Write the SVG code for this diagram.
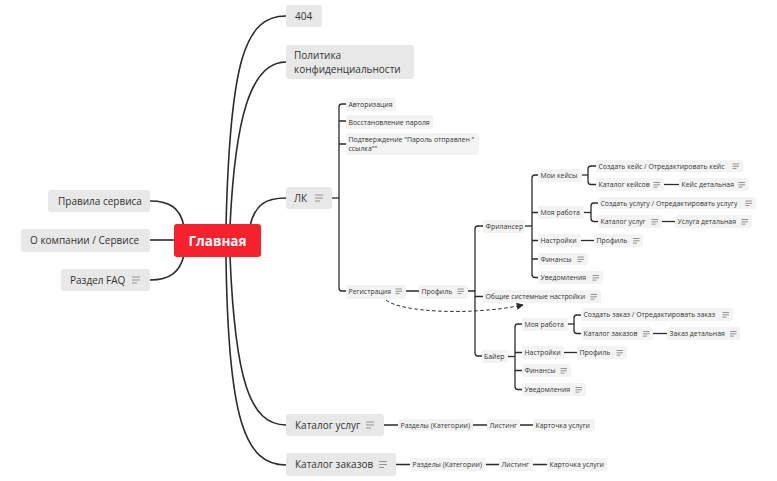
<svg xmlns="http://www.w3.org/2000/svg" width="777" height="481" viewBox="0 0 777 481">
<defs>
<style>
text{font-family:"Open Sans","Noto Sans","Liberation Sans",sans-serif;fill:#333}
.b1{fill:#e8e8e8}
.b2{fill:#f3f3f3}
.t1{font-size:10px}
.t2{font-size:6.9px}
.c{fill:none;stroke:#2b2b2b;stroke-width:1.6}
.l{fill:none;stroke:#2b2b2b;stroke-width:1.3}
.ic{fill:none;stroke:#888;stroke-width:0.9}
</style>
<g id="note1" class="ic"><path d="M0 0.5h8M0 3.5h8M0 6.5h5"/></g>
<g id="note2" class="ic"><path d="M0 0.5h6.5M0 2.8h6.5M0 5.1h4"/></g>
<marker id="arr" viewBox="0 0 10 10" refX="9" refY="5" markerWidth="7" markerHeight="7" orient="auto" markerUnits="userSpaceOnUse"><path d="M0 0L10 5L0 10z" fill="#2b2b2b"/></marker>
</defs>
<rect width="777" height="481" fill="#fff"/>

<g id="connectors">
<path class="c" d="M226 226C230 60 245 16 286 16"/>
<path class="c" d="M230 226C235 120 250 62 286 62"/>
<path class="c" d="M250 226C255 205 265 198 286 198"/>
<path class="c" d="M184 226C180 208 170 201 150 201"/>
<path class="c" d="M174 240H150"/>
<path class="c" d="M184 255C180 272 170 280 150 280"/>
<path class="c" d="M230 256C235 380 250 425 286 425"/>
<path class="c" d="M226 256C228 420 245 465 286 465"/>
<path class="l" d="M332 198H339"/>
<path class="l" d="M346 104H342Q339 104 339 107V288Q339 291 342 291H346"/>
<path class="l" d="M339 121H346M339 144H346"/>
<path class="l" d="M406 291H419M468 291H475"/>
<path class="l" d="M483 226H478Q475 226 475 229V353Q475 356 478 356H482M475 296.5H483"/>
<path class="l" d="M525 226H532"/>
<path class="l" d="M538 175H535Q532 175 532 178V274.5Q532 277.5 535 277.5H538M532 212.5H538M532 240.5H538M532 259H538"/>
<path class="l" d="M582 175H588"/>
<path class="l" d="M596 166H591Q588 166 588 169V181.5Q588 184.5 591 184.5H596"/>
<path class="l" d="M664 184.5H679"/>
<path class="l" d="M584 212.5H591"/>
<path class="l" d="M598 203H594Q591 203 591 206V218.5Q591 221.5 594 221.5H598"/>
<path class="l" d="M662 221.5H675"/>
<path class="l" d="M581 240.5H594"/>
<path class="l" d="M508 356.5H515"/>
<path class="l" d="M522 324H518Q515 324 515 327V386.5Q515 389.5 518 389.5H522M515 352.5H522M515 370.5H522"/>
<path class="l" d="M568 324H574"/>
<path class="l" d="M581 315H577Q574 315 574 318V330.5Q574 333.5 577 333.5H581"/>
<path class="l" d="M653 333.5H667"/>
<path class="l" d="M564 352.5H577"/>
<path class="l" d="M384 425H398M473 425H487M520 425H533"/>
<path class="l" d="M396 464.5H410M486 464.5H499M533 464.5H547"/>
<path fill="none" stroke="#2b2b2b" stroke-width="1" stroke-dasharray="3.5 2.5" d="M386 300C400 312 470 316 523 305" marker-end="url(#arr)"/>
</g>

<g id="main"><rect x="174" y="224" width="87" height="33" rx="3" fill="#F5222D"/><text x="217.5" y="245.5" text-anchor="middle" style="font-size:13.5px;font-weight:bold;fill:#fff">Главная</text></g>

<g id="rules"><rect class="b1" x="48" y="190" width="102" height="22" rx="3"/><text class="t1" x="58" y="204.5">Правила сервиса</text></g>
<g id="about"><rect class="b1" x="21" y="229" width="129" height="23" rx="3"/><text class="t1" x="30" y="244">О компании / Сервисе</text></g>
<g id="faq"><rect class="b1" x="61" y="269" width="89" height="22" rx="3"/><text class="t1" x="70" y="283.5">Раздел FAQ</text><use href="#note1" x="132" y="276.5"/></g>

<g id="n404"><rect class="b1" x="286" y="5" width="36" height="22" rx="3"/><text class="t1" x="295" y="19.5">404</text></g>
<g id="policy"><rect class="b1" x="286" y="45" width="128" height="34" rx="3"/><text class="t1" x="294" y="59">Политика</text><text class="t1" x="294" y="72.5">конфиденциальности</text></g>
<g id="lk"><rect class="b1" x="286" y="187" width="46" height="22" rx="3"/><text class="t1" x="294" y="201.5">ЛК</text><use href="#note1" x="315" y="194.5"/></g>

<g id="auth"><rect class="b2" x="346" y="98" width="50" height="13" rx="2"/><text class="t2" x="348.5" y="107">Авторизация</text></g>
<g id="restore"><rect class="b2" x="346" y="115" width="87" height="14" rx="2"/><text class="t2" x="348.5" y="124.5">Восстановление пароля</text></g>
<g id="confirm"><rect class="b2" x="346" y="133" width="133" height="22" rx="2"/><text class="t2" x="348.5" y="142">Подтверждение "Пароль отправлен "</text><text class="t2" x="348.5" y="151">ссылка""</text></g>
<g id="reg"><rect class="b2" x="346" y="285" width="60" height="14" rx="2"/><text class="t2" x="348.5" y="294">Регистрация</text><use href="#note2" x="395.5" y="288.5"/></g>
<g id="profile"><rect class="b2" x="419" y="285" width="49" height="14" rx="2"/><text class="t2" x="421.5" y="294">Профиль</text><use href="#note2" x="457.5" y="288.5"/></g>

<g id="freelancer"><rect class="b2" x="483" y="220" width="42" height="13" rx="2"/><text class="t2" x="485.5" y="229">Фрилансер</text></g>
<g id="f-cases"><rect class="b2" x="538" y="169" width="44" height="13" rx="2"/><text class="t2" x="540.5" y="178">Мои кейсы</text></g>
<g id="f-case-create"><rect class="b2" x="596" y="160" width="147" height="12" rx="2"/><text class="t2" x="598.5" y="168.5">Создать кейс / Отредактировать кейс</text><use href="#note2" x="732.5" y="163.5"/></g>
<g id="f-case-cat"><rect class="b2" x="596" y="178" width="68" height="13" rx="2"/><text class="t2" x="598.5" y="187">Каталог кейсов</text><use href="#note2" x="653.5" y="182"/></g>
<g id="f-case-detail"><rect class="b2" x="679" y="178" width="70" height="13" rx="2"/><text class="t2" x="681.5" y="187">Кейс детальная</text><use href="#note2" x="738.5" y="182"/></g>
<g id="f-work"><rect class="b2" x="538" y="206" width="46" height="13" rx="2"/><text class="t2" x="540.5" y="215">Моя работа</text></g>
<g id="f-svc-create"><rect class="b2" x="598" y="197" width="158" height="12" rx="2"/><text class="t2" x="600.5" y="205.5">Создать услугу / Отредактировать услугу</text><use href="#note2" x="745.5" y="200.5"/></g>
<g id="f-svc-cat"><rect class="b2" x="598" y="215" width="64" height="13" rx="2"/><text class="t2" x="600.5" y="224">Каталог услуг</text><use href="#note2" x="651.5" y="219"/></g>
<g id="f-svc-detail"><rect class="b2" x="675" y="215" width="77" height="13" rx="2"/><text class="t2" x="677.5" y="224">Услуга детальная</text><use href="#note2" x="741.5" y="219"/></g>
<g id="f-settings"><rect class="b2" x="538" y="234" width="43" height="13" rx="2"/><text class="t2" x="540.5" y="243">Настройки</text></g>
<g id="f-profile"><rect class="b2" x="594" y="234" width="49" height="13" rx="2"/><text class="t2" x="596.5" y="243">Профиль</text><use href="#note2" x="633" y="238"/></g>
<g id="f-finance"><rect class="b2" x="538" y="253" width="50" height="12" rx="2"/><text class="t2" x="540.5" y="261.5">Финансы</text><use href="#note2" x="577.5" y="256.5"/></g>
<g id="f-notify"><rect class="b2" x="538" y="271" width="65" height="13" rx="2"/><text class="t2" x="540.5" y="280">Уведомления</text><use href="#note2" x="592.5" y="275"/></g>
<g id="common"><rect class="b2" x="483" y="290" width="118" height="13" rx="2"/><text class="t2" x="485.5" y="299">Общие системные настройки</text><use href="#note2" x="590.5" y="294"/></g>

<g id="buyer"><rect class="b2" x="482" y="350" width="26" height="13" rx="2"/><text class="t2" x="484" y="359">Байер</text></g>
<g id="b-work"><rect class="b2" x="522" y="318" width="46" height="13" rx="2"/><text class="t2" x="524.5" y="327">Моя работа</text></g>
<g id="b-order-create"><rect class="b2" x="581" y="308" width="152" height="13" rx="2"/><text class="t2" x="583.5" y="317">Создать заказ / Отредактировать заказ</text><use href="#note2" x="722.5" y="312"/></g>
<g id="b-order-cat"><rect class="b2" x="581" y="327" width="72" height="13" rx="2"/><text class="t2" x="583.5" y="336">Каталог заказов</text><use href="#note2" x="643" y="331"/></g>
<g id="b-order-detail"><rect class="b2" x="667" y="327" width="73" height="13" rx="2"/><text class="t2" x="669.5" y="336">Заказ детальная</text><use href="#note2" x="730" y="331"/></g>
<g id="b-settings"><rect class="b2" x="522" y="346" width="42" height="13" rx="2"/><text class="t2" x="524.5" y="355">Настройки</text></g>
<g id="b-profile"><rect class="b2" x="577" y="346" width="50" height="13" rx="2"/><text class="t2" x="579.5" y="355">Профиль</text><use href="#note2" x="616.5" y="350"/></g>
<g id="b-finance"><rect class="b2" x="522" y="364" width="49" height="13" rx="2"/><text class="t2" x="524.5" y="373">Финансы</text><use href="#note2" x="560.5" y="368"/></g>
<g id="b-notify"><rect class="b2" x="522" y="383" width="64" height="13" rx="2"/><text class="t2" x="524.5" y="392">Уведомления</text><use href="#note2" x="575.5" y="387"/></g>

<g id="cat-services"><rect class="b1" x="286" y="414" width="98" height="22" rx="3"/><text class="t1" x="295" y="428.5">Каталог услуг</text><use href="#note1" x="366" y="421.5"/></g>
<g id="cs-sections"><rect class="b2" x="398" y="419" width="75" height="12" rx="2"/><text class="t2" x="400.5" y="427.5">Разделы (Категории)</text></g>
<g id="cs-listing"><rect class="b2" x="487" y="419" width="33" height="12" rx="2"/><text class="t2" x="489.5" y="427.5">Листинг</text></g>
<g id="cs-card"><rect class="b2" x="533" y="419" width="62" height="12" rx="2"/><text class="t2" x="535.5" y="427.5">Карточка услуги</text></g>

<g id="cat-orders"><rect class="b1" x="286" y="453" width="110" height="23" rx="3"/><text class="t1" x="295" y="468">Каталог заказов</text><use href="#note1" x="379" y="461"/></g>
<g id="co-sections"><rect class="b2" x="410" y="458" width="76" height="13" rx="2"/><text class="t2" x="412.5" y="467">Разделы (Категории)</text></g>
<g id="co-listing"><rect class="b2" x="499" y="458" width="34" height="13" rx="2"/><text class="t2" x="501.5" y="467">Листинг</text></g>
<g id="co-card"><rect class="b2" x="547" y="458" width="60" height="13" rx="2"/><text class="t2" x="549.5" y="467">Карточка услуги</text></g>
</svg>
